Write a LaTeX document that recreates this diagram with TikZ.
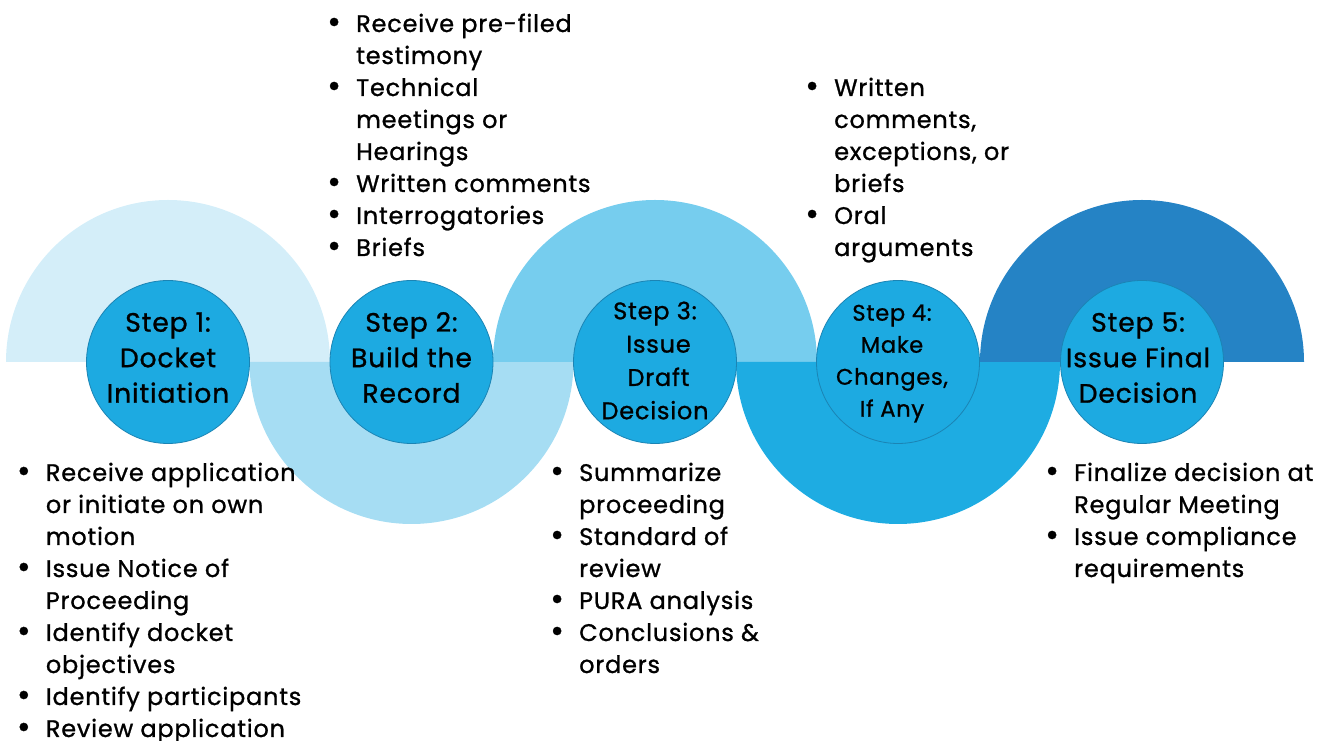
\documentclass[tikz,border=0pt]{standalone}
\usepackage{fontspec}
\setmainfont{Poppins}[LetterSpace=3.3,FakeBold=1.0]
\definecolor{cA}{HTML}{D4EEF9}
\definecolor{cB}{HTML}{A6DDF3}
\definecolor{cC}{HTML}{76CDEE}
\definecolor{cD}{HTML}{1EACE2}
\definecolor{cE}{HTML}{2583C5}
\definecolor{cStep}{HTML}{1DAAE1}
\definecolor{cEdge}{HTML}{1B84B4}
\newcommand\itm{\makebox[29pt][l]{\raisebox{-1.2pt}{\scalebox{1.4}{•}}}}
\newcommand\upband[2]{\fill[#2] (#1-162,379) arc[start angle=180,end angle=0,radius=162] -- (#1+81,379) arc[start angle=0,end angle=180,radius=81] -- cycle;}
\newcommand\lowband[2]{\fill[#2] (#1-162,379) arc[start angle=180,end angle=360,radius=162] -- (#1+81,379) arc[start angle=360,end angle=180,radius=81] -- cycle;}
\begin{document}
\begin{tikzpicture}[x=1pt,y=1pt,
  stepc/.style={circle, fill=cStep, draw=cEdge, line width=0.8pt, minimum size=163pt, inner sep=0pt},
  steptxt/.style={inner sep=0pt, anchor=base, text=black},
  big/.style={font=\fontsize{26.6}{35.5}\selectfont},
  blk/.style={inner sep=0pt, anchor=base west, text=black, font=\fontsize{24}{32}\selectfont}]
\useasboundingbox (0,0) rectangle (1333,741);
% bands
\upband{168}{cA}
\lowband{411.5}{cB}
\upband{655}{cC}
\lowband{898}{cD}
\upband{1142}{cE}
% circles
\node[stepc] (c1) at (168,379) {};
\node[stepc] (c2) at (411.5,379) {};
\node[stepc] (c3) at (655,379) {};
\node[stepc] (c4) at (898,379) {};
\node[stepc] (c5) at (1142,379) {};
% circle texts
\node[steptxt,big] (t1) at (168,409.3) {\begin{tabular}[t]{@{}c@{}}Step 1:\\Docket\\Initiation\end{tabular}};
\node[steptxt,big] (t2) at (411.5,409.3) {\begin{tabular}[t]{@{}c@{}}Step 2:\\Build the\\Record\end{tabular}};
\node[steptxt,font=\fontsize{24}{33.3}\selectfont] (t3) at (655,421.7) {\begin{tabular}[t]{@{}c@{}}Step 3:\\\hspace*{7pt}Issue\\\hspace*{7pt}Draft\\Decision\end{tabular}};
\node[steptxt,font=\fontsize{22.5}{32}\selectfont] (t4) at (892,420.3) {\begin{tabular}[t]{@{}c@{}}Step 4:\\Make\\Changes,\\If Any\end{tabular}};
\node[steptxt,big] (t5) at (1138,409.3) {\begin{tabular}[t]{@{}c@{}}Step 5:\\Issue Final\\Decision\end{tabular}};
% bullet blocks
\node[blk] (b2) at (327,709) {\begin{tabular}[t]{@{}l@{}l@{}}
\itm & Receive pre-filed\\ & testimony\\
\itm & Technical\\ & meetings or\\ & Hearings\\
\itm & Written comments\\
\itm & Interrogatories\\
\itm & Briefs\end{tabular}};
\node[blk] (b4) at (805,645) {\begin{tabular}[t]{@{}l@{}l@{}}
\itm & Written\\ & comments,\\ & exceptions, or\\ & briefs\\
\itm & Oral\\ & arguments\end{tabular}};
\node[blk] (b1) at (16.7,260) {\begin{tabular}[t]{@{}l@{}l@{}}
\itm & Receive application\\ & or initiate on own\\ & motion\\
\itm & Issue Notice of\\ & Proceeding\\
\itm & Identify docket\\ & objectives\\
\itm & Identify participants\\
\itm & Review application\end{tabular}};
\node[blk] (b3) at (550,260) {\begin{tabular}[t]{@{}l@{}l@{}}
\itm & Summarize\\ & proceeding\\
\itm & Standard of\\ & review\\
\itm & PURA analysis\\
\itm & Conclusions \&\\ & orders\end{tabular}};
\node[blk] (b5) at (1045,260) {\begin{tabular}[t]{@{}l@{}l@{}}
\itm & Finalize decision at\\ & Regular Meeting\\
\itm & Issue compliance\\ & requirements\end{tabular}};
\end{tikzpicture}
\end{document}
